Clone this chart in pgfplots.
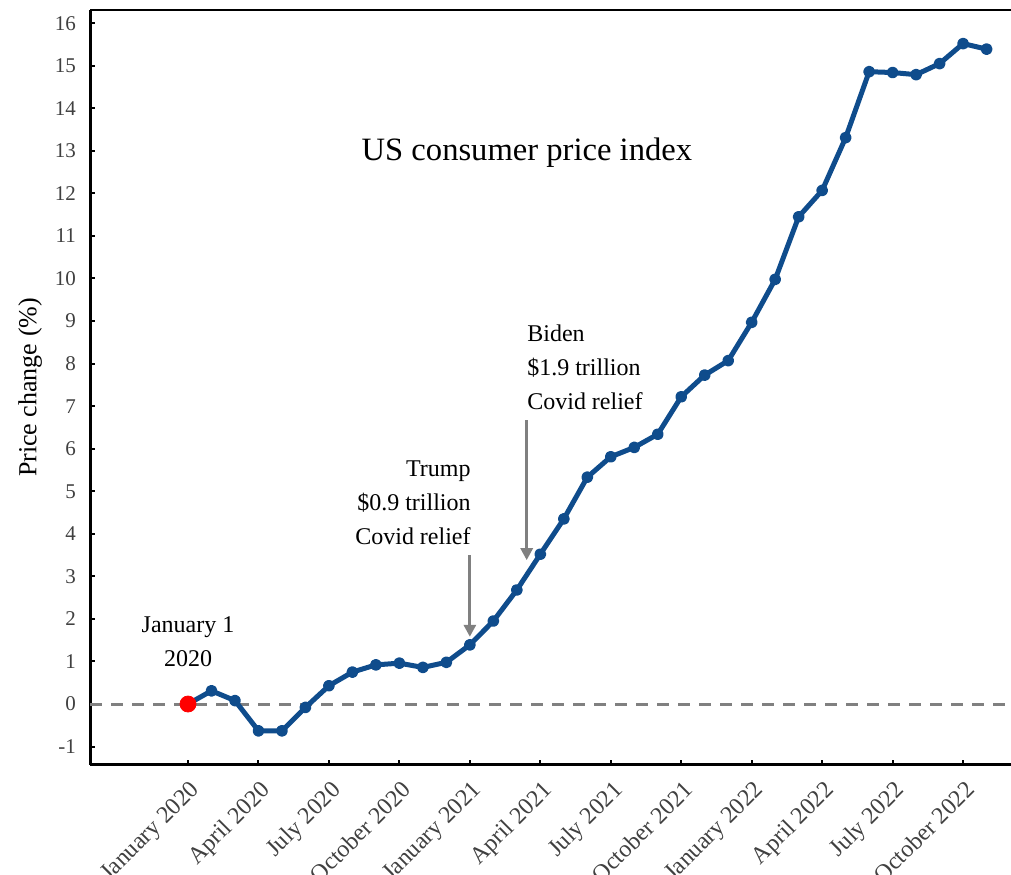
\documentclass[border=0pt]{standalone}
\usepackage{fontspec}
\setmainfont{Liberation Serif}
\usepackage{pgfplots}
\pgfplotsset{compat=1.18}
\usetikzlibrary{arrows.meta}
\definecolor{cpi}{RGB}{15,76,140}
\definecolor{tlab}{RGB}{64,64,64}
\definecolor{dgray}{RGB}{128,128,128}
\begin{document}
\begin{tikzpicture}
\begin{axis}[
 scale only axis, width=460.5pt, height=377.5pt,
 xmin=-4.173, xmax=35.04, ymin=-1.433, ymax=16.31,
 axis x line*=bottom, axis y line*=left,
 axis line style={line width=1.5pt, black},
 xtick={0,3,...,33},
 xticklabels={January 2020, April 2020, July 2020, October 2020, January 2021, April 2021, July 2021, October 2021, January 2022, April 2022, July 2022, October 2022},
 ytick={-1,0,...,16},
 tick align=inside, major tick length=2.5pt,
 tick style={black, line width=1pt},
 /pgf/number format/assume math mode=true,
 yticklabel style={text=tlab, font=\fontsize{10.5}{12}\selectfont, xshift=-3.5pt},
 xticklabel style={text=tlab, font=\fontsize{12}{14}\selectfont, inner sep=0pt, xshift=0.5pt, yshift=-7pt, rotate=45, anchor=north east},
 ylabel={Price change (\%)},
 ylabel style={font=\fontsize{13}{15}\selectfont, at={(rel axis cs:-0.0651,0.5)}, anchor=center},
 clip=false,
]
\coordinate (bl) at (rel axis cs:0,0);
\coordinate (tr) at (rel axis cs:1,1);
\draw[line width=0.6pt, black] (rel axis cs:0,1) -- (rel axis cs:1,1);
\addplot[dgray, line width=1.5pt, dash pattern=on 6pt off 4.5pt] coordinates {(-4.173,0) (35.04,0)};
\addplot[color=cpi, line width=2.5pt, line join=round, mark=*, mark size=1.7pt, mark options={solid, fill=cpi}] coordinates {
(0,0) (1,0.31) (2,0.08) (3,-0.63) (4,-0.63) (5,-0.08) (6,0.43) (7,0.75) (8,0.92) (9,0.96)
(10,0.86) (11,0.98) (12,1.39) (13,1.95) (14,2.68) (15,3.52) (16,4.35) (17,5.33) (18,5.81) (19,6.03)
(20,6.34) (21,7.22) (22,7.73) (23,8.07) (24,8.97) (25,9.98) (26,11.45) (27,12.07) (28,13.31) (29,14.86)
(30,14.84) (31,14.79) (32,15.05) (33,15.52) (34,15.39)};
\addplot[only marks, mark=*, mark size=4pt, color=red, mark options={fill=red}] coordinates {(0,0)};
\draw[dgray, line width=1.5pt, -{Triangle[width=6pt,length=6pt]}] (axis cs:12.0,3.50) -- (axis cs:12.0,1.58);
\draw[dgray, line width=1.5pt, -{Triangle[width=6pt,length=6pt]}] (axis cs:14.42,6.67) -- (axis cs:14.42,3.38);
\node[font=\fontsize{16.3}{19}\selectfont] at (axis cs:14.43,12.95) {US consumer price index};
\node[font=\fontsize{12}{17}\selectfont, align=center, inner sep=0pt] at (axis cs:0,1.46) {January 1\\2020};
\node[font=\fontsize{12}{17}\selectfont, align=right, inner sep=0pt, anchor=east] at (axis cs:12.05,4.72) {Trump\\\$0.9 trillion\\Covid relief};
\node[font=\fontsize{12}{17}\selectfont, align=left, inner sep=0pt, anchor=west] at (axis cs:14.43,7.92) {Biden\\\$1.9 trillion\\Covid relief};
\end{axis}
\pgfresetboundingbox
\path ([shift={(-45pt,-55pt)}]bl) rectangle ([shift={(0pt,5pt)}]tr);
\end{tikzpicture}
\end{document}
